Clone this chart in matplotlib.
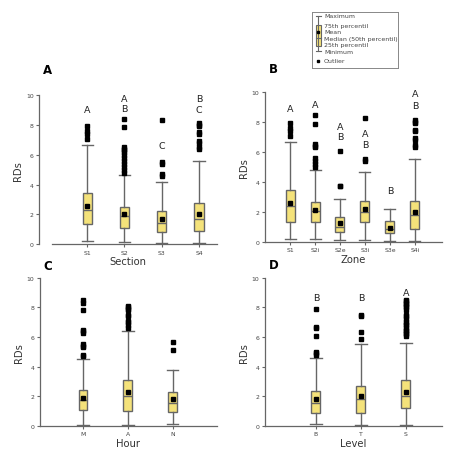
import matplotlib.pyplot as plt
import numpy as np

# ---- data ----
# each group: whislo, q1, med, q3, whishi, mean, outliers
section_labels = ["S1", "S2", "S3", "S4"]
section_whislo = [0.2, 0.16, 0.05, 0.05]
section_q1 = [1.34, 1.07, 0.85, 0.9]
section_med = [2.3, 1.9, 1.45, 1.72]
section_q3 = [3.42, 2.5, 2.2, 2.75]
section_whishi = [6.64, 4.63, 4.14, 5.55]
section_mean = [2.57, 2.0, 1.68, 2.0]
section_out = [
    [7.05, 7.4, 7.6, 7.9],
    [4.8, 5.0, 5.2, 5.4, 5.6, 5.8, 6.0, 6.2, 6.3, 6.4, 6.5, 7.87, 8.43],
    [4.6, 4.7, 5.4, 5.5, 8.3],
    [6.4, 6.5, 6.8, 6.9, 7.4, 7.5, 7.9, 8.0, 8.1],
]
section_letters = [["A"], ["A", "B"], ["C"], ["B", "C"]]
section_letter_y = [[9.06], [9.78, 9.1], [6.6], [9.78, 9.06]]

zone_labels = ["S1", "S2i", "S2e", "S3i", "S3e", "S4i"]
zone_whislo = [0.2, 0.18, 0.1, 0.1, 0.05, 0.05]
zone_q1 = [1.34, 1.34, 0.67, 1.34, 0.56, 0.89]
zone_med = [2.4, 2.05, 0.96, 1.96, 0.87, 1.78]
zone_q3 = [3.46, 2.68, 1.63, 2.75, 1.4, 2.75]
zone_whishi = [6.65, 4.8, 2.86, 4.69, 2.19, 5.54]
zone_mean = [2.6, 2.1, 1.25, 2.18, 0.95, 2.0]
zone_out = [
    [7.05, 7.4, 7.6, 7.9],
    [5.0, 5.2, 5.4, 5.6, 6.3, 6.4, 6.5, 7.85, 8.45],
    [3.7, 3.75, 6.05],
    [5.4, 5.5, 8.25],
    [],
    [6.35, 6.45, 6.8, 6.9, 7.4, 7.45, 7.9, 8.0, 8.1],
]
zone_letters = [["A"], ["A"], ["A", "B"], ["A", "B"], ["B"], ["A", "B"]]
zone_letter_y = [[8.9], [9.15], [7.7, 7.0], [7.2, 6.47], [3.4], [9.9, 9.1]]

hour_labels = ["M", "A", "N"]
hour_whislo = [0.05, 0.05, 0.15]
hour_q1 = [1.06, 1.0, 0.94]
hour_med = [1.73, 2.02, 1.55]
hour_q3 = [2.4, 3.12, 2.3]
hour_whishi = [4.5, 6.4, 3.75]
hour_mean = [1.9, 2.27, 1.8]
hour_out = [
    [4.7, 4.8, 5.3, 5.4, 5.5, 6.3, 6.4, 6.5, 7.85, 8.3, 8.5],
    [6.6, 6.8, 7.0, 7.1, 7.4, 7.5, 7.8, 7.9, 8.0, 8.1],
    [5.1, 5.65],
]

level_labels = ["B", "T", "S"]
level_whislo = [0.15, 0.05, 0.05]
level_q1 = [0.88, 0.88, 1.24]
level_med = [1.55, 1.82, 2.0]
level_q3 = [2.36, 2.7, 3.08]
level_whishi = [4.58, 5.5, 5.6]
level_mean = [1.8, 2.0, 2.3]
level_out = [
    [4.8, 4.9, 5.0, 6.05, 6.6, 6.65, 7.9],
    [5.85, 6.35, 7.4, 7.5],
    [6.1, 6.2, 6.3, 6.4, 6.5, 6.6, 6.8, 6.9, 7.0, 7.2, 7.4, 7.5,
     7.8, 8.0, 8.1, 8.2, 8.3, 8.4, 8.5],
]
level_letters = [["B"], ["B"], ["A"]]
level_letter_y = [[8.7], [8.7], [9.0]]

FILL = "#f4e27a"
GRAY = "#666666"


def make_stats(labels, wlo, q1, med, q3, whi, mean, out):
    stats = []
    for i in range(len(labels)):
        stats.append({"label": labels[i], "whislo": wlo[i], "q1": q1[i], "med": med[i],
                      "q3": q3[i], "whishi": whi[i], "mean": mean[i],
                      "fliers": np.array(out[i])})
    return stats


def draw_panel(rect, stats, xlabel, letter, letter_off, xlim, width, capw, letters=None,
               letter_y=None, xbound=None):
    ax = fig.add_axes(rect)
    lw = 1.0
    ax.bxp(stats, positions=np.arange(1, len(stats) + 1), widths=width, patch_artist=True,
           showmeans=True, capwidths=capw,
           boxprops=dict(facecolor=FILL, edgecolor=GRAY, linewidth=lw),
           medianprops=dict(color=GRAY, linewidth=lw),
           whiskerprops=dict(color=GRAY, linewidth=lw),
           capprops=dict(color=GRAY, linewidth=lw),
           meanprops=dict(marker="s", markerfacecolor="black", markeredgecolor="black",
                          markersize=2.6),
           flierprops=dict(marker="s", markerfacecolor="black", markeredgecolor="black",
                           markersize=2.5, linestyle="none"))
    ax.set_xlim(*xlim)
    ax.set_ylim(0, 10)
    ax.set_yticks([0, 2, 4, 6, 8, 10])
    for s in ["top", "right"]:
        ax.spines[s].set_visible(False)
    for s in ["left", "bottom"]:
        ax.spines[s].set_color(GRAY)
        ax.spines[s].set_linewidth(0.9)
    if xbound is not None:
        ax.spines["bottom"].set_bounds(*xbound)
    ax.tick_params(axis="both", colors=GRAY, labelsize=4.4, length=2.5, width=0.8, pad=1.5,
                   labelcolor="#444444")
    ax.set_ylabel("RDs", fontsize=7.2, color="#333333", labelpad=2)
    ax.set_xlabel(xlabel, fontsize=7.2, color="#333333", labelpad=1)
    ax.text(0.02, 1.0 + letter_off, letter, transform=ax.transAxes, fontsize=8.5,
            fontweight="bold", ha="left", va="center")
    if letters:
        for i, (ls, ys) in enumerate(zip(letters, letter_y)):
            for l, y in zip(ls, ys):
                ax.text(i + 1, y, l, ha="center", va="center", fontsize=6.8, color="#222222")
    return ax


fig = plt.figure(figsize=(4.5, 4.6), dpi=100)

draw_panel([0.087, 0.467, 0.395, 0.324],
           make_stats(section_labels, section_whislo, section_q1, section_med, section_q3,
                      section_whishi, section_mean, section_out),
           "Section", "A", 0.175, (-0.29, 4.48), 0.25, 0.3, section_letters, section_letter_y,
           xbound=(0.06, 4.48))
draw_panel([0.589, 0.472, 0.393, 0.326],
           make_stats(zone_labels, zone_whislo, zone_q1, zone_med, zone_q3,
                      zone_whishi, zone_mean, zone_out),
           "Zone", "B", 0.155, (0.0, 7.08), 0.36, 0.44, zone_letters, zone_letter_y)
draw_panel([0.089, 0.072, 0.393, 0.322],
           make_stats(hour_labels, hour_whislo, hour_q1, hour_med, hour_q3,
                      hour_whishi, hour_mean, hour_out),
           "Hour", "C", 0.08, (0.044, 3.98), 0.2, 0.25)
draw_panel([0.589, 0.072, 0.393, 0.322],
           make_stats(level_labels, level_whislo, level_q1, level_med, level_q3,
                      level_whishi, level_mean, level_out),
           "Level", "D", 0.09, (-0.13, 3.8), 0.2, 0.25, level_letters, level_letter_y)

# ---- key box (top right) ----
key = fig.add_axes([0.693, 0.85, 0.191, 0.122])
key.set_xlim(0, 1)
key.set_ylim(0, 1)
key.set_xticks([])
key.set_yticks([])
for s in key.spines.values():
    s.set_color("#888888")
    s.set_linewidth(0.7)
key_labels = ["Maximum", "75th percentil", "Mean", "Median (50th percentil)",
              "25th percentil", "Minimum", "Outlier"]
key_y = [0.93, 0.76, 0.65, 0.52, 0.41, 0.30, 0.125]
for lab, y in zip(key_labels, key_y):
    key.text(0.14, y, lab, fontsize=4.5, color="#444444", va="center", ha="left")
key.plot([0.073, 0.073], [0.30, 0.93], color=GRAY, lw=0.8)
key.plot([0.045, 0.101], [0.93, 0.93], color=GRAY, lw=0.8)
key.plot([0.045, 0.101], [0.30, 0.30], color=GRAY, lw=0.8)
key.add_patch(plt.Rectangle((0.045, 0.40), 0.056, 0.37, facecolor=FILL, edgecolor=GRAY, lw=0.8))
key.plot([0.045, 0.101], [0.53, 0.53], color=GRAY, lw=0.8)
key.plot([0.073], [0.64], marker="s", color="black", markersize=1.8)
key.plot([0.073], [0.125], marker="s", color="black", markersize=1.6)

fig.savefig("out.png", dpi=100)
